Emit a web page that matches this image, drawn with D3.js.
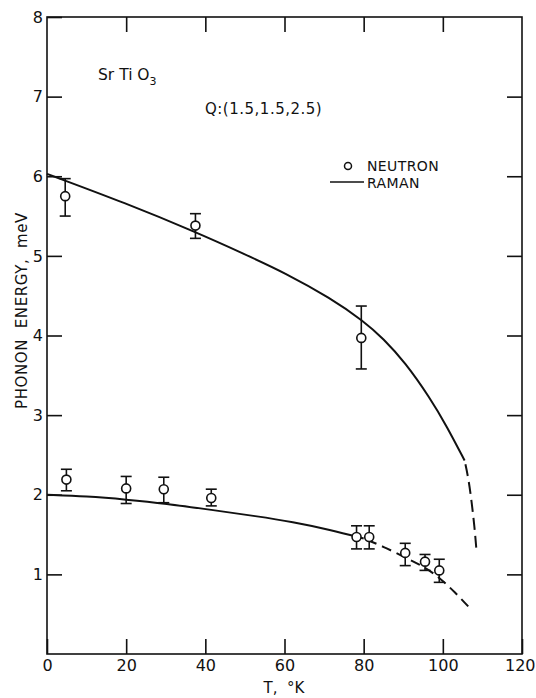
<!DOCTYPE html>
<html>
<head>
<meta charset="utf-8">
<script src="https://cdn.jsdelivr.net/npm/d3@7"></script>
<style>
  body { margin: 0; background: #fff; }
  svg text { font-family: 'DejaVu Sans', sans-serif; fill: #111; }
</style>
</head>
<body>
<svg id="chart" width="536" height="698"></svg>
<script>
// neutron points (T in K, energy in meV) with error bar ends
const neutronT = [4.6, 37.5, 79.4, 4.9, 20, 29.5, 41.5, 78.2, 81.4, 90.5, 95.5, 99.1];
const neutronE = [5.75, 5.38, 3.97, 2.19, 2.08, 2.07, 1.96, 1.47, 1.47, 1.27, 1.16, 1.05];
const neutronLo = [5.5, 5.22, 3.58, 2.05, 1.89, 1.9, 1.86, 1.32, 1.32, 1.11, 1.05, 0.9];
const neutronHi = [5.97, 5.53, 4.37, 2.32, 2.23, 2.22, 2.07, 1.61, 1.61, 1.39, 1.25, 1.19];

// raman curves, solid part then dashed extrapolation
const ramanUpperT = [0, 20, 37.5, 50, 60, 71.6, 80, 85, 90.5, 96.7, 101, 105.5];
const ramanUpperE = [6.03, 5.66, 5.3, 5.02, 4.79, 4.47, 4.18, 3.96, 3.66, 3.22, 2.86, 2.43];
const ramanUpperDashT = [105.5, 106.5, 107.3, 108, 108.5];
const ramanUpperDashE = [2.43, 2.2, 1.9, 1.6, 1.3];
const ramanLowerT = [0, 10, 20, 30, 41.5, 53, 62, 71.6, 80];
const ramanLowerE = [2.0, 1.98, 1.94, 1.89, 1.81, 1.73, 1.66, 1.56, 1.45];
const ramanLowerDashT = [80, 85, 90.5, 95.5, 99.1, 103, 107.3];
const ramanLowerDashE = [1.45, 1.35, 1.21, 1.09, 0.96, 0.78, 0.55];

const xTicks = [0, 20, 40, 60, 80, 100, 120];
const yTicks = [1, 2, 3, 4, 5, 6, 7, 8];

const frame = { left: 47, right: 522, top: 17, bottom: 654 };
const tickLen = 15;
const capHalf = 5.5;

const svg = d3.select('#chart');
const x = d3.scaleLinear().domain([0, 120]).range([frame.left, frame.right]);
const y = d3.scaleLinear().domain([0, 8]).range([frame.bottom, frame.top]);

/**
 * strip the domain path and set tick stroke
 */
function styleAxis(g) {
  g.select('.domain').remove();
  g.selectAll('.tick line').attr('stroke', '#111').attr('stroke-width', 1.6);
  g.selectAll('.tick text').attr('font-size', 16).attr('fill', '#111');
}

// axes, all ticks point inward
svg.append('g')
  .attr('transform', `translate(${frame.left},0)`)
  .call(d3.axisLeft(y).tickValues(yTicks).tickSize(-tickLen).tickPadding(4).tickFormat(d3.format('d')))
  .call(styleAxis);
svg.append('g')
  .attr('transform', `translate(${frame.right},0)`)
  .call(d3.axisRight(y).tickValues(yTicks.slice(0, -1)).tickSize(-tickLen).tickFormat(''))
  .call(styleAxis);
svg.append('g')
  .attr('transform', `translate(0,${frame.bottom})`)
  .call(d3.axisBottom(x).tickValues(xTicks).tickSize(-tickLen).tickPadding(6).tickFormat(d3.format('d')))
  .call(styleAxis)
  // last label sits against the page edge
  .call((g) => g.selectAll('.tick text')
    .filter((d) => d === 120)
    .attr('text-anchor', 'end')
    .attr('dx', 13));
svg.append('g')
  .attr('transform', `translate(0,${frame.top})`)
  .call(d3.axisTop(x).tickValues(xTicks.slice(1, -1)).tickSize(-tickLen).tickFormat(''))
  .call(styleAxis);

// box
svg.append('rect')
  .attr('x', frame.left)
  .attr('y', frame.top)
  .attr('width', frame.right - frame.left)
  .attr('height', frame.bottom - frame.top)
  .attr('fill', 'none')
  .attr('stroke', '#111')
  .attr('stroke-width', 1.6);

// axis titles
svg.append('text')
  .attr('transform', `translate(27,${(218 + 403) / 2}) rotate(-90)`)
  .attr('text-anchor', 'middle')
  .attr('font-size', 15)
  .attr('letter-spacing', 0.6)
  .attr('xml:space', 'preserve')
  .text('PHONON  ENERGY,  meV');
svg.append('text')
  .attr('x', 284)
  .attr('y', 693)
  .attr('text-anchor', 'middle')
  .attr('font-size', 15)
  .attr('xml:space', 'preserve')
  .text('T,  °K');

// raman lines
const line = d3.line()
  .x((d) => x(d[0]))
  .y((d) => y(d[1]))
  .curve(d3.curveBasis);
const curves = [
  { t: ramanUpperT, e: ramanUpperE, dash: null },
  { t: ramanUpperDashT, e: ramanUpperDashE, dash: '12,6' },
  { t: ramanLowerT, e: ramanLowerE, dash: null },
  { t: ramanLowerDashT, e: ramanLowerDashE, dash: '10,6' },
];
svg.append('g')
  .selectAll('path')
  .data(curves)
  .join('path')
    .attr('d', (c) => line(d3.zip(c.t, c.e)))
    .attr('fill', 'none')
    .attr('stroke', '#111')
    .attr('stroke-width', 2)
    .attr('stroke-dasharray', (c) => c.dash)
    .attr('stroke-dashoffset', (c) => (c.dash ? -4 : null));

// neutron points with error bars
const points = neutronT.map((t, i) => ({
  t, e: neutronE[i], lo: neutronLo[i], hi: neutronHi[i],
}));
svg.append('g')
  .selectAll('g')
  .data(points)
  .join('g')
    .attr('stroke', '#111')
    .attr('stroke-width', 1.6)
    .call((g) => g.append('line')
      .attr('x1', (d) => x(d.t))
      .attr('x2', (d) => x(d.t))
      .attr('y1', (d) => y(d.lo))
      .attr('y2', (d) => y(d.hi)))
    .call((g) => g.append('line')
      .attr('x1', (d) => x(d.t) - capHalf)
      .attr('x2', (d) => x(d.t) + capHalf)
      .attr('y1', (d) => y(d.hi))
      .attr('y2', (d) => y(d.hi)))
    .call((g) => g.append('line')
      .attr('x1', (d) => x(d.t) - capHalf)
      .attr('x2', (d) => x(d.t) + capHalf)
      .attr('y1', (d) => y(d.lo))
      .attr('y2', (d) => y(d.lo)))
    .call((g) => g.append('circle')
      .attr('cx', (d) => x(d.t))
      .attr('cy', (d) => y(d.e))
      .attr('r', 4.5)
      .attr('fill', '#fff'));

// labels
svg.append('text')
  .attr('x', 98)
  .attr('y', 80)
  .attr('font-size', 15.5)
  .attr('xml:space', 'preserve')
  .text('Sr Ti O')
  .append('tspan')
    .attr('dy', 5)
    .attr('font-size', 11)
    .text('3');
svg.append('text')
  .attr('x', 205)
  .attr('y', 114)
  .attr('font-size', 15)
  .attr('letter-spacing', 0.5)
  .text('Q:(1.5,1.5,2.5)');

// legend
svg.append('circle')
  .attr('cx', 348)
  .attr('cy', 166)
  .attr('r', 3.5)
  .attr('fill', '#fff')
  .attr('stroke', '#111')
  .attr('stroke-width', 1.5);
svg.append('text')
  .attr('x', 367)
  .attr('y', 171)
  .attr('font-size', 14)
  .attr('letter-spacing', 0.4)
  .text('NEUTRON');
svg.append('line')
  .attr('x1', 330)
  .attr('x2', 364)
  .attr('y1', 182)
  .attr('y2', 182)
  .attr('stroke', '#111')
  .attr('stroke-width', 1.6);
svg.append('text')
  .attr('x', 367)
  .attr('y', 188)
  .attr('font-size', 14)
  .attr('letter-spacing', 0.4)
  .text('RAMAN');
</script>
</body>
</html>
